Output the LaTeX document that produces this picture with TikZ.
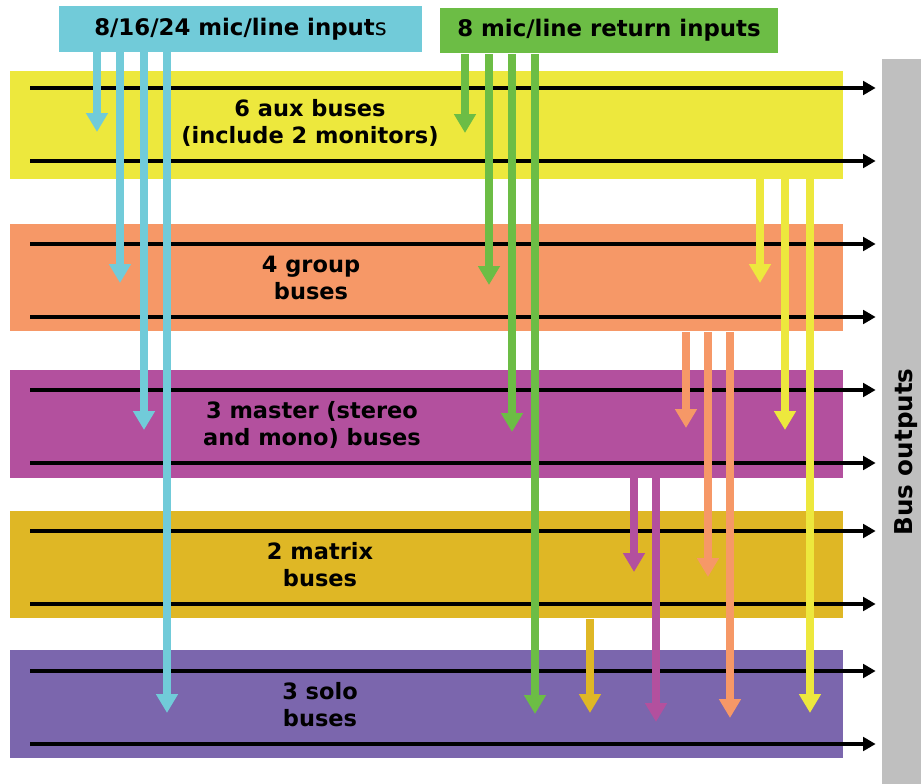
\documentclass[tikz,border=0pt]{standalone}
\usepackage{fontspec}
\setmainfont{DejaVu Sans}
\usetikzlibrary{arrows.meta,positioning,calc}

\definecolor{micblue}{HTML}{71CBD9}
\definecolor{retgreen}{HTML}{6CBD45}
\definecolor{auxyellow}{HTML}{EDE83D}
\definecolor{grouporange}{HTML}{F69867}
\definecolor{mastermag}{HTML}{B3509E}
\definecolor{matrixgold}{HTML}{DFB725}
\definecolor{solopurple}{HTML}{7B66AD}
\definecolor{outgray}{HTML}{BFBFBF}

\begin{document}
\begin{tikzpicture}[
		x=0.02cm, y=-0.02cm,
		every node/.style={inner sep=0pt, font=\bfseries\fontsize{12.8}{15.3}\selectfont},
		band/.style={rectangle, minimum width=16.66cm, minimum height=2.16cm},
		inbox/.style={rectangle, minimum height=0.92cm, font=\bfseries\fontsize{13}{15}\selectfont},
		lbl/.style={align=center},
		bus/.style={line width=0.07cm, -{Triangle[length=0.25cm,width=0.27cm]}},
		feed/.style={line width=0.17cm, draw=#1, -{Triangle[length=0.38cm,width=0.42cm]}}
	]

	\useasboundingbox (0,0) rectangle (921,784);

	% inputs
	\node[inbox, fill=micblue, minimum width=7.26cm] (mic) at (240.5,29) {8/16/24 mic/line input\mdseries s};
	\node[inbox, fill=retgreen, minimum width=6.76cm] (ret) at (609,30.5) {8 mic/line return inputs};

	% buses
	\node[band, fill=auxyellow] (aux) at (426.5,125) {};
	\node[band, fill=grouporange] (group) at (426.5,277.5) {};
	\node[band, fill=mastermag] (master) at (426.5,424) {};
	\node[band, fill=matrixgold] (matrix) at (426.5,564.5) {};
	\node[band, fill=solopurple] (solo) at (426.5,704) {};

	\node[lbl] (auxlabel) at (310,123) {6 aux buses\\(include 2 monitors)};
	\node[lbl] (grouplabel) at (311,278) {4 group\\buses};
	\node[lbl] (masterlabel) at (312,425) {3 master (stereo\\and mono) buses};
	\node[lbl] (matrixlabel) at (320,565) {2 matrix\\buses};
	\node[lbl] (sololabel) at (320,705) {3 solo\\buses};

	% outputs
	\node[fill=outgray, minimum width=0.78cm, minimum height=14.5cm] (outs) at (901.5,421.5) {};
	\node[rotate=90, font=\bfseries\fontsize{14}{16}\selectfont] (outlabel) at (906,452) {Bus outputs};

	\foreach \y in {88,161,244,317,390,463,531,604,671,744}
		\draw[bus] (30,\y) -- ([xshift=-0.12cm]outs.west |- 0,\y);

	% feeds
	\foreach \x/\t in {97/132,120/283,144/430,167/713}
		\draw[feed=micblue] (\x,0 |- mic.south) -- (\x,\t);
	\foreach \x/\t in {465/133,489/285,512/432,535/714}
		\draw[feed=retgreen] (\x,0 |- ret.south) -- (\x,\t);
	\foreach \x/\t in {760/283,785/430,810/713}
		\draw[feed=auxyellow] (\x,0 |- aux.south) -- (\x,\t);
	\foreach \x/\t in {686/428,708/577,730/718}
		\draw[feed=grouporange] (\x,0 |- group.south) -- (\x,\t);
	\foreach \x/\t in {634/572,656/722}
		\draw[feed=mastermag] (\x,0 |- master.south) -- (\x,\t);
	\draw[feed=matrixgold] (590,0 |- matrix.south) -- (590,713);

\end{tikzpicture}
\end{document}
